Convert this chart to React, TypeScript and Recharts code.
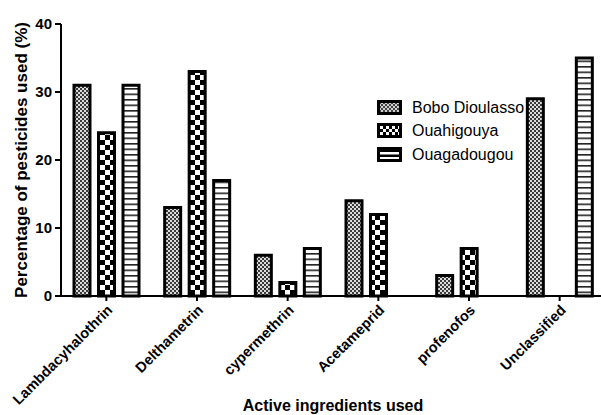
import React from 'react';
import { BarChart, Bar, XAxis, YAxis, Legend } from 'recharts';

const CATEGORIES = ['Lambdacyhalothrin', 'Delthametrin', 'cypermethrin', 'Acetameprid', 'profenofos', 'Unclassified'];
const BOBO = [31, 13, 6, 14, 3, 29];
const OUAHIGOUYA: (number | null)[] = [24, 33, 2, 12, 7, null];
const OUAGADOUGOU: (number | null)[] = [31, 17, 7, null, null, 35];
const Y_TICKS = [0, 10, 20, 30, 40];

const SERIES = [
  { key: 'bobo', name: 'Bobo Dioulasso', fill: 'url(#patBobo)', swatch: 'url(#swBobo)' },
  { key: 'ouahi', name: 'Ouahigouya', fill: 'url(#patOuahi)', swatch: 'url(#swOuahi)' },
  { key: 'ouaga', name: 'Ouagadougou', fill: 'url(#patOuaga)', swatch: 'url(#swOuaga)' },
];

const data = CATEGORIES.map((c, i) => ({
  name: c,
  bobo: BOBO[i],
  ouahi: OUAHIGOUYA[i],
  ouaga: OUAGADOUGOU[i],
}));

const FONT = '"Liberation Sans", Arial, sans-serif';

const XTick = (props: any) => {
  const { x, y, payload } = props;
  const ax = x + 7;
  const ay = y + 8;
  return (
    <text
      x={ax}
      y={ay}
      transform={`rotate(-45 ${ax} ${ay})`}
      textAnchor="end"
      fontFamily={FONT}
      fontWeight="bold"
      fontSize={14.5}
      fill="#000"
    >
      {payload.value}
    </text>
  );
};

const YLabel = (props: any) => {
  const vb = props.viewBox || { x: 0, y: 0, width: 0, height: 0 };
  const cx = 27;
  const cy = vb.y + vb.height / 2;
  return (
    <text
      x={cx}
      y={cy}
      transform={`rotate(-90 ${cx} ${cy})`}
      textAnchor="middle"
      fontFamily={FONT}
      fontWeight="bold"
      fontSize={17}
      fill="#000"
    >
      Percentage of pesticides used (%)
    </text>
  );
};

const LegendContent = () => (
  <div style={{ fontFamily: FONT }}>
    {SERIES.map((s) => (
      <div key={s.key} style={{ display: 'flex', alignItems: 'center', height: 23.5 }}>
        <svg width={26} height={16} style={{ display: 'block' }}>
          <rect x={1.5} y={1.5} width={22} height={12} fill={s.swatch} stroke="#000" strokeWidth={3} />
        </svg>
        <span style={{ marginLeft: 9, fontSize: 16, color: '#000', lineHeight: '16px' }}>{s.name}</span>
      </div>
    ))}
  </div>
);

export default function App() {
  return (
    <div style={{ position: 'absolute', left: 0, top: 0, width: 601, height: 415, overflow: 'hidden', background: '#fff' }}>
      <BarChart
        width={606}
        height={415}
        data={data}
        margin={{ top: 24, right: 1, bottom: 0, left: 0 }}
        barSize={16}
        barGap={8.5}
        style={{ fontFamily: FONT }}
      >
        <defs>
          <pattern id="patBobo" patternUnits="userSpaceOnUse" width={4} height={4}>
            <rect x={0} y={0} width={4} height={4} fill="#dcdcdc" />
            <rect x={0} y={0} width={2} height={2} fill="#3a3a3a" />
            <rect x={2} y={2} width={2} height={2} fill="#3a3a3a" />
          </pattern>
          <pattern id="patOuahi" patternUnits="userSpaceOnUse" width={10} height={10}>
            <rect x={0} y={0} width={10} height={10} fill="#fff" />
            <rect x={0} y={0} width={5} height={5} fill="#000" />
            <rect x={5} y={5} width={5} height={5} fill="#000" />
          </pattern>
          <pattern id="patOuaga" patternUnits="userSpaceOnUse" width={6} height={5.5}>
            <rect x={0} y={0} width={6} height={5.5} fill="#fff" />
            <rect x={0} y={0} width={6} height={1.6} fill="#222" />
          </pattern>
          <pattern id="swBobo" patternUnits="userSpaceOnUse" width={4} height={4}>
            <rect x={0} y={0} width={4} height={4} fill="#d0d0d0" />
            <rect x={0} y={0} width={2} height={2} fill="#444" />
            <rect x={2} y={2} width={2} height={2} fill="#444" />
          </pattern>
          <pattern id="swOuahi" patternUnits="userSpaceOnUse" width={6} height={6}>
            <rect x={0} y={0} width={6} height={6} fill="#000" />
            <rect x={0} y={0} width={3} height={3} fill="#fff" />
            <rect x={3} y={3} width={3} height={3} fill="#fff" />
          </pattern>
          <pattern id="swOuaga" patternUnits="userSpaceOnUse" width={6} height={5}>
            <rect x={0} y={0} width={6} height={5} fill="#000" />
            <rect x={0} y={0} width={6} height={2.5} fill="#fff" />
          </pattern>
        </defs>
        <XAxis
          dataKey="name"
          height={119}
          interval={0}
          tickSize={5}
          axisLine={{ stroke: '#000', strokeWidth: 2 }}
          tickLine={{ stroke: '#000', strokeWidth: 2 }}
          tick={<XTick />}
          label={{
            value: 'Active ingredients used',
            position: 'insideBottom',
            offset: 4,
            style: { fontFamily: FONT, fontWeight: 'bold', fontSize: 16, fill: '#000' },
          }}
        />
        <YAxis
          width={61}
          domain={[0, 40]}
          ticks={Y_TICKS}
          interval={0}
          tickSize={6}
          tickMargin={3}
          axisLine={{ stroke: '#000', strokeWidth: 2 }}
          tickLine={{ stroke: '#000', strokeWidth: 2 }}
          tick={{ fontFamily: FONT, fontWeight: 'bold', fontSize: 15, fill: '#000' }}
          label={<YLabel />}
        />
        <Legend
          layout="vertical"
          align="center"
          verticalAlign="middle"
          wrapperStyle={{ left: 377, top: 96, width: 220 }}
          content={<LegendContent />}
        />
        {SERIES.map((s) => (
          <Bar
            key={s.key}
            dataKey={s.key}
            name={s.name}
            fill={s.fill}
            stroke="#000"
            strokeWidth={3}
            isAnimationActive={false}
          />
        ))}
      </BarChart>
    </div>
  );
}
